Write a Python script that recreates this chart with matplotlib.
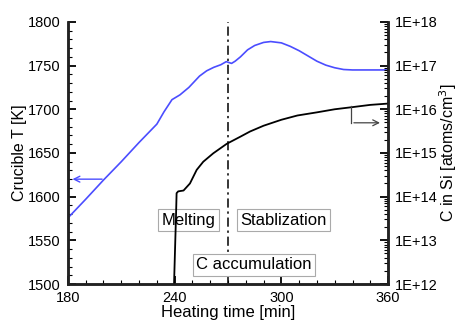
import numpy as np
import matplotlib
matplotlib.use('Agg')
import matplotlib.pyplot as plt
from matplotlib.ticker import MultipleLocator, LogLocator, FuncFormatter, NullFormatter

plt.rcParams['font.family'] = ['Liberation Sans', 'DejaVu Sans']
plt.rcParams['font.size'] = 10.5

# crucible temperature (left axis)
time_T = [180, 190, 200, 210, 220, 230, 234, 238.5, 243, 248, 254, 258, 262, 266,
          269, 270.5, 272, 274, 277, 281, 285, 290, 294, 300, 305, 310, 315,
          320, 325, 330, 335, 340, 350, 360]
crucible_T = [1575.6, 1597, 1619, 1640, 1662, 1683, 1697, 1711, 1716.5, 1725, 1738,
              1744, 1748, 1751, 1754.5, 1753.5, 1752.5, 1755, 1760, 1768, 1773,
              1776.5, 1777.5, 1776, 1772, 1767, 1761, 1755, 1750.5, 1747.5, 1745.5,
              1745, 1745, 1745]

# carbon concentration in Si (right axis)
time_C = [239.6, 240.3, 240.8, 241.1, 242, 245, 248.6, 252.4, 256.1, 261.7, 269.3,
          276.8, 282.4, 290, 300, 309, 320, 330, 340, 350, 360]
c_si = [7.9e11, 7.9e12, 4.0e13, 1.2e14, 1.32e14, 1.38e14, 2.0e14, 4.1e14, 6.3e14,
        9.8e14, 1.62e15, 2.34e15, 3.1e15, 4.2e15, 5.75e15, 7.2e15, 8.5e15, 1.0e16,
        1.12e16, 1.26e16, 1.35e16]

stage_labels = ['Melting', 'Stablization', 'C accumulation']
stage_pos = [(247.8, 1573), (301.2, 1573), (284.6, 1522)]
t_switch = 270

fig = plt.figure(figsize=(4.62, 3.22), dpi=100)
ax = fig.add_axes([0.147, 0.118, 0.693, 0.814])
ax2 = ax.twinx()

ax.plot(time_T, crucible_T, color='#4b4dff', lw=1.2)
ax2.plot(time_C, c_si, color='black', lw=1.3)
ax.axvline(t_switch, color='black', ls=(0, (6, 2.5, 1.5, 2.5)), lw=1.1)

ax.set_xlim(180, 360)
ax.set_ylim(1500, 1800)
ax2.set_ylim(1e12, 1e18)
ax2.set_yscale('log')

ax.xaxis.set_major_locator(MultipleLocator(60))
ax.xaxis.set_minor_locator(MultipleLocator(10))
ax.yaxis.set_major_locator(MultipleLocator(50))
ax.yaxis.set_minor_locator(MultipleLocator(10))
ax2.yaxis.set_major_locator(LogLocator(base=10, numticks=10))
ax2.yaxis.set_minor_locator(LogLocator(base=10, subs=np.arange(2, 10), numticks=10))
ax2.yaxis.set_minor_formatter(NullFormatter())
ax2.yaxis.set_major_formatter(FuncFormatter(lambda v, p: '1E+%d' % round(np.log10(v))))

for a in (ax, ax2):
    a.spines['top'].set_visible(False)
    for s in ('left', 'right', 'bottom'):
        a.spines[s].set_linewidth(1.8)
        a.spines[s].set_color('#222222')
    a.tick_params(which='major', direction='in', length=6, width=1.3, pad=5)
    a.tick_params(which='minor', direction='in', length=3, width=0.8)

ax.set_xlabel('Heating time [min]', fontsize=12, labelpad=0)
ax.set_ylabel('Crucible T [K]', fontsize=11.5, labelpad=1)
ax2.set_ylabel('C in Si [atoms/cm$^3$]', fontsize=11.5, labelpad=0)

for lab, (x, y) in zip(stage_labels, stage_pos):
    ax.text(x, y, lab, ha='center', va='center', fontsize=12,
            bbox=dict(boxstyle='square,pad=0.2', fc='white', ec='#aaaaaa', lw=0.8))

# arrows pointing to the axes
ax.annotate('', xy=(181, 1620), xytext=(200.8, 1620),
            arrowprops=dict(arrowstyle='->', color='#4b4dff', lw=1.0))
ax2.plot([339.2, 339.2], [1.2e16, 4.9e15], color='#444444', lw=0.9)
ax2.annotate('', xy=(357, 4.9e15), xytext=(339.2, 4.9e15),
             arrowprops=dict(arrowstyle='->', color='#444444', lw=0.9))

plt.savefig('out.png', dpi=100)
